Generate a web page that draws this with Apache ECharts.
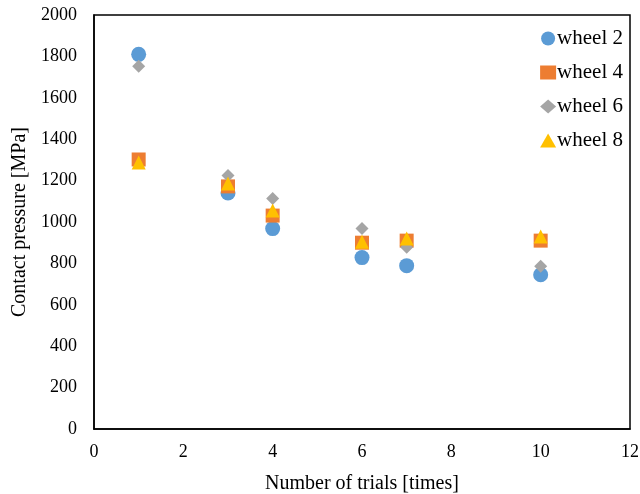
<!DOCTYPE html>
<html>
<head>
<meta charset="utf-8">
<script src="https://cdn.jsdelivr.net/npm/echarts@6/dist/echarts.min.js"></script>
<style>
  html, body { margin: 0; padding: 0; background: #fff; }
  #main { width: 640px; height: 494px; }
</style>
</head>
<body>
<div id="main"></div>
<script>
// trials on x axis, contact pressure [MPa] per wheel
var trials = [1, 3, 4, 6, 7, 10];
var wheel2 = [1810, 1140, 968, 828, 789, 745];
var wheel4 = [1302, 1172, 1031, 900, 910, 910];
var wheel6 = [1753, 1225, 1114, 968, 878, 786];
var wheel8 = [1288, 1186, 1056, 905, 920, 930];

function pts(vals) {
    return trials.map(function (t, i) { return [t, vals[i]]; });
}

var font = 'Liberation Serif';
var myChart = echarts.init(document.getElementById('main'));
var option = {
    animation: false,
    grid: {
        left: 94, right: 10, top: 15, bottom: 65,
        outerBoundsMode: 'none',
        show: true, borderColor: '#000', borderWidth: 1.5
    },
    legend: {
        orient: 'vertical',
        right: 12,
        top: 23,
        itemGap: 13,
        itemWidth: 16,
        itemHeight: 14,
        textStyle: { fontFamily: font, fontSize: 21, color: '#000', padding: [0, 0, 0, -4] },
        data: ['wheel 2', 'wheel 4', 'wheel 6', 'wheel 8']
    },
    xAxis: {
        type: 'value',
        min: 0, max: 12, interval: 2,
        name: 'Number of trials [times]',
        nameLocation: 'middle',
        nameGap: 45,
        nameTextStyle: { fontFamily: font, fontSize: 20, color: '#000' },
        axisLine: { lineStyle: { color: '#000', width: 1.5 } },
        axisTick: { show: false },
        splitLine: { show: false },
        axisLabel: { fontFamily: font, fontSize: 18, color: '#000', margin: 14 }
    },
    yAxis: {
        type: 'value',
        min: 0, max: 2000, interval: 200,
        name: 'Contact pressure [MPa]',
        nameLocation: 'middle',
        nameGap: 64,
        nameTextStyle: { fontFamily: font, fontSize: 20, color: '#000' },
        axisLine: { show: true, lineStyle: { color: '#000', width: 1.5 } },
        axisTick: { show: false },
        splitLine: { show: false },
        axisLabel: { fontFamily: font, fontSize: 18, color: '#000', margin: 17,
                     formatter: function (v) { return String(v); } }
    },
    series: [
        { name: 'wheel 2', type: 'scatter', symbol: 'circle', symbolSize: 15,
          itemStyle: { color: '#5B9BD5', opacity: 1 }, data: pts(wheel2) },
        { name: 'wheel 4', type: 'scatter', symbol: 'rect', symbolSize: 14,
          itemStyle: { color: '#ED7D31', opacity: 1 }, data: pts(wheel4) },
        { name: 'wheel 6', type: 'scatter', symbol: 'diamond', symbolSize: 13,
          itemStyle: { color: '#A5A5A5', opacity: 1 }, data: pts(wheel6) },
        { name: 'wheel 8', type: 'scatter', symbol: 'triangle', symbolSize: 14,
          itemStyle: { color: '#FFC000', opacity: 1 }, data: pts(wheel8) }
    ]
};
myChart.setOption(option);
</script>
</body>
</html>
